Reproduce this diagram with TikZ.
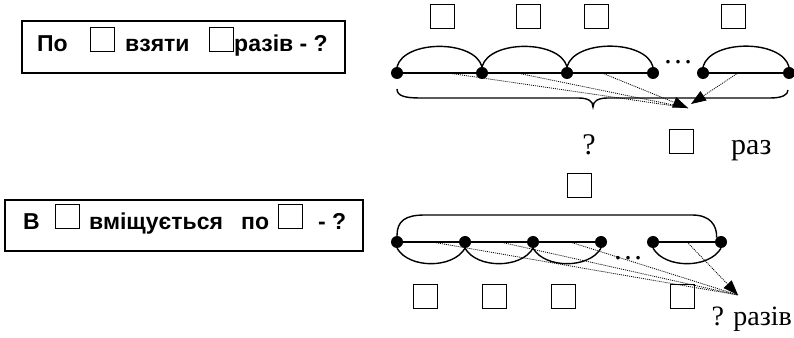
\documentclass[tikz,border=0pt]{standalone}
\usepackage{fontspec}
\setmainfont{Liberation Serif}
\setsansfont{Liberation Sans}
\usetikzlibrary{positioning, arrows.meta}
\tikzset{
  qbox/.style={draw, line width=1.3pt, inner sep=0pt},
  qtext/.style={font=\fontsize{23}{27}\selectfont\sffamily\bfseries, inner sep=0pt, anchor=base west},
  sq/.style={draw, line width=0.9pt, minimum size=24pt, inner sep=0pt},
  pt/.style={circle, fill, minimum size=12pt, inner sep=0pt},
  seg/.style={line width=1.4pt},
  hint/.style={line width=0.8pt, dash pattern=on 1pt off 1pt},
  hinttip/.style={hint, -{Triangle[length=15pt, width=11pt]}},
  ans/.style={font=\fontsize{30}{34}\selectfont, inner sep=0pt, anchor=base west},
}

\begin{document}
\begin{tikzpicture}[x=1pt, y=1pt]
  \useasboundingbox (0,0) rectangle (794,337);

  % first question
  \node[qbox, minimum width=323pt, minimum height=52pt] (q1) at (183.5,290) {};
  \node[qtext] (q1a) at (37,285) {По};
  \node[sq] (q1n) at (102,297.5) {};
  \node[qtext] (q1b) at (125,285) {взяти};
  \node[sq] (q1k) at (221,297.5) {};
  \node[qtext] (q1c) at (234,285) {разів - ?};

  % second question
  \node[qbox, minimum width=358pt, minimum height=51pt] (q2) at (184,111.5) {};
  \node[qtext] (q2a) at (23,107) {В};
  \node[sq] (q2n) at (67.5,120.5) {};
  \node[qtext] (q2b) at (89,107) {вміщується};
  \node[qtext] (q2c) at (241,107) {по};
  \node[sq] (q2k) at (290,120.5) {};
  \node[qtext] (q2d) at (318,107) {- ?};

  % upper segment model
  \foreach \x [count=\i] in {397,482,567,653,703,789}
    \node[pt] (t\i) at (\x,264) {};
  \foreach \x [count=\i] in {442.5,528,596,733}
    \node[sq] (tn\i) at (\x,321) {};
  \draw[seg] (t1) -- (t4);
  \draw[seg] (t5) -- (t6);
  \foreach \a/\b in {1/2,2/3,3/4,5/6}
    \draw[seg] (t\a.north) to[out=75, in=105, looseness=0.85] (t\b.north);
  \node[ans, anchor=base] (tdots) at (678,273) {…};

  \draw[seg] (397,248) .. controls (397,241) and (405,239) .. (420,239) -- (578,239)
    .. controls (588,239) and (593,236) .. (593,230)
    .. controls (593,236) and (598,239) .. (608,239) -- (770,239)
    .. controls (782,239) and (788,242) .. (788,247);

  \coordinate (h1) at (448,264);
  \coordinate (h2) at (517,264);
  \coordinate (h3) at (602,264);
  \coordinate (h4) at (738,264);
  \coordinate (tip1) at (688,229);
  \coordinate (tip2) at (691,233);
  \draw[hint] (h1) -- (tip1);
  \draw[hint] (h2) -- (tip1);
  \draw[hinttip] (h3) -- (tip1);
  \draw[hinttip] (h4) -- (tip2);

  \node[ans, anchor=base] (tq) at (589,182) {?};
  \node[sq] (tr) at (681,196) {};
  \node[ans] (tras) at (731,182) {раз};

  % lower segment model
  \foreach \x [count=\i] in {397,465,533,601,653,721}
    \node[pt] (b\i) at (\x,95) {};
  \foreach \x [count=\i] in {425,494,563,682}
    \node[sq] (bn\i) at (\x,40.5) {};
  \node[sq] (btot) at (579.5,152) {};
  \draw[seg] (b1) -- (b4);
  \draw[seg] (b5) -- (b6);
  \foreach \a/\b in {1/2,2/3,3/4,5/6}
    \draw[seg] (b\a.south) to[out=-60, in=-120, looseness=0.9] (b\b.south);
  \draw[seg] (b1.north) .. controls (397,116) and (405,122) .. (425,122) -- (692,122)
    .. controls (710,122) and (717,112) .. (b6.north west);
  \node[ans, anchor=base] (bdots) at (628,77) {…};

  \coordinate (g1) at (432,95);
  \coordinate (g2) at (500,95);
  \coordinate (g3) at (570,95);
  \coordinate (g4) at (687,95);
  \coordinate (tip3) at (738,42);
  \draw[hint] (g1) -- (tip3);
  \draw[hint] (g2) -- (tip3);
  \draw[hint] (g3) -- (tip3);
  \draw[hinttip] (g4) -- (tip3);

  \node[ans, font=\fontsize{28}{32}\selectfont, anchor=base east] (bras) at (792,12) {? разів};
\end{tikzpicture}
\end{document}
